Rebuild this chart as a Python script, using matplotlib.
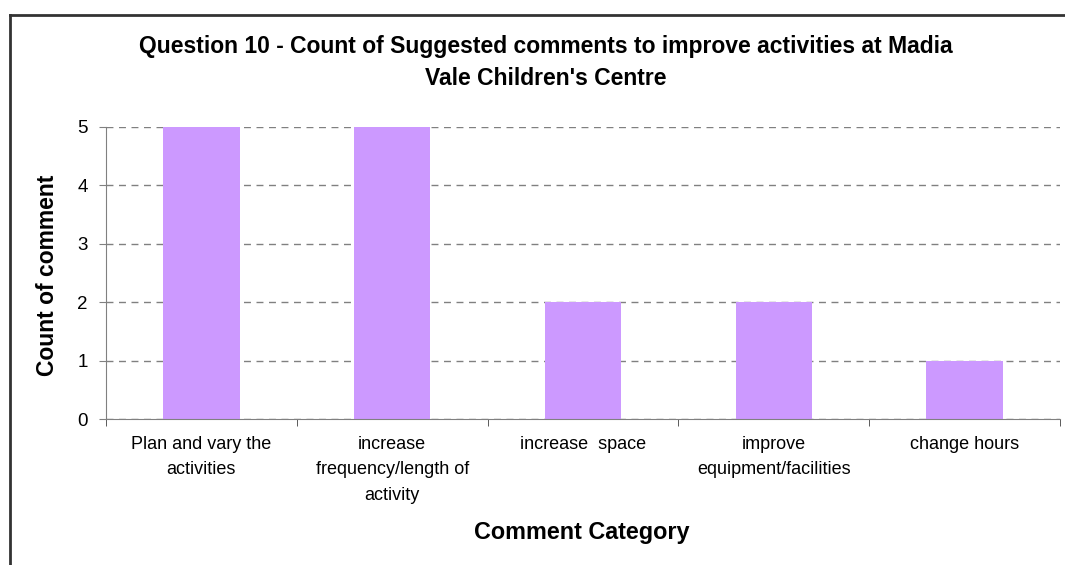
import numpy as np
import matplotlib
matplotlib.use('Agg')
import matplotlib.pyplot as plt
from matplotlib.lines import Line2D

plt.rcParams['font.family'] = ['Liberation Sans', 'DejaVu Sans']

categories = ['Plan and vary the\nactivities',
              'increase\nfrequency/length of\nactivity',
              'increase  space',
              'improve\nequipment/facilities',
              'change hours']
counts = [5, 5, 2, 2, 1]
yticks = [0, 1, 2, 3, 4, 5]
title_lines = ["Question 10 - Count of Suggested comments to improve activities at Madia",
               "Vale Children's Centre"]

W, H = 1065, 565
fig = plt.figure(figsize=(W / 100, H / 100), dpi=100)
ax = fig.add_axes([106 / W, 1 - 419 / H, 954 / W, 292 / H])

x = np.arange(len(categories))
ax.bar(x, counts, width=0.4, color='#CC99FF', zorder=2)

ax.set_xlim(-0.5, len(categories) - 0.5)
ax.set_ylim(0, 5)
ax.set_yticks(yticks)
ax.set_yticklabels([str(v) for v in yticks], fontsize=13.5)
ax.set_xticks(x)
ax.set_xticklabels(categories, fontsize=13, linespacing=1.65, va='top')
ax.tick_params(axis='x', length=0, pad=12)
ax.tick_params(axis='y', length=5, color='#808080', pad=8)
# category boundary ticks
ax.set_xticks(np.arange(-0.5, len(categories)), minor=True)
ax.tick_params(axis='x', which='minor', length=5, color='#404040', direction='out')

ax.yaxis.grid(True, linestyle=(0, (5, 4)), color='#808080', linewidth=1, zorder=0)
for s in ['top', 'right']:
    ax.spines[s].set_visible(False)
ax.spines['left'].set_color('#808080')
ax.spines['bottom'].set_color('#808080')

fig.text(48 / W, 1 - 275 / H, 'Count of comment', rotation=90, fontsize=16.5,
         fontweight='bold', ha='center', va='center')
fig.text(582 / W, 1 - 532 / H, 'Comment Category', fontsize=16.8,
         fontweight='bold', ha='center', va='center')

fig.text(546 / W, 1 - 53 / H, title_lines[0], fontsize=16.5,
         fontweight='bold', ha='center', va='baseline')
fig.text(546 / W, 1 - 85 / H, title_lines[1], fontsize=16.5,
         fontweight='bold', ha='center', va='baseline')

# outer chart frame
fig.add_artist(Line2D([10 / W, 10 / W], [0, 1 - 15 / H], transform=fig.transFigure,
                      color='#333333', linewidth=2))
fig.add_artist(Line2D([10 / W, 1], [1 - 15 / H, 1 - 15 / H], transform=fig.transFigure,
                      color='#333333', linewidth=2))

fig.savefig('out.png', dpi=100)
